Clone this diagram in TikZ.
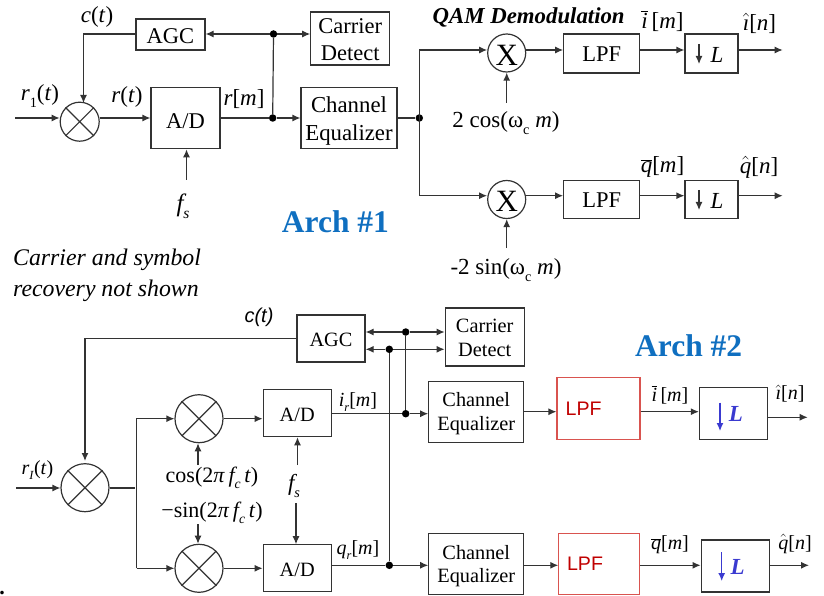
\documentclass[tikz,border=0pt]{standalone}
\usepackage{fontspec}
\setmainfont{Liberation Serif}
\setsansfont{Liberation Sans}
\usetikzlibrary{arrows.meta}
\definecolor{wire}{HTML}{333333}
\definecolor{archblue}{HTML}{0F6FC0}
\definecolor{lpfred}{HTML}{C00000}
\definecolor{lpfedge}{HTML}{D9534F}
\definecolor{lblue}{HTML}{3A3AD0}
\newcommand{\fsz}[1]{\fontsize{#1}{#1}\selectfont}
\newcommand{\lowtxt}[1]{\raisebox{-0.28em}{\fontsize{0.62em}{0.62em}\selectfont #1}}
\newcommand{\ii}{\textit}
\newcommand{\pad}[1]{\rule{0pt}{#1em}}
\begin{document}
\begin{tikzpicture}[x=1pt,y=-1pt,
  wirel/.style={draw=wire,line width=1.2pt},
  arr/.style={wirel,-{Latex[length=8pt,width=7pt]}},
  barr/.style={draw=lblue,line width=1.2pt,-{Latex[length=8pt,width=7pt]}},
  blockbox/.style={draw=wire,line width=1.2pt,inner sep=0pt,align=center,text=black},
  topbox/.style={blockbox,font=\fsz{22.5}},
  botbox/.style={blockbox,font=\fsz{20.3}},
  redbox/.style={draw=lpfedge,line width=1.1pt,inner sep=0pt},
  mixc/.style={circle,draw=wire,line width=1.2pt,inner sep=0pt},
  dotj/.style={circle,fill=black,inner sep=0pt,minimum size=7.5pt},
  lab/.style={inner sep=0pt,text=black,font=\fsz{21}},
  lab2/.style={inner sep=0pt,text=black,font=\fsz{20}},
  arch/.style={inner sep=0pt,text=archblue,font=\fsz{31.5}\bfseries}
]
\useasboundingbox (0,0) rectangle (824,596);
% ---------- Arch 1 ----------
\node[mixc,minimum size=39pt] (m1) at (79.7,121.7) {};
\draw[wirel] (m1.45)--(m1.225) (m1.135)--(m1.315);
\node[topbox,minimum width=69pt,minimum height=31pt] (agc1) at (170.5,34.6) {\pad{.76}AGC};
\node[topbox,minimum width=79pt,minimum height=53pt] (cd1) at (350.3,38.5) {\pad{.77}Carrier\\[4pt]Detect};
\node[topbox,minimum width=69pt,minimum height=61pt] (ad1) at (185.5,118.3) {\pad{.9}A/D};
\node[topbox,minimum width=96pt,minimum height=61pt,font=\fsz{22.8}] (ce1) at (349,118.3) {\pad{.9}Channel\\[5pt]Equalizer};
\node[dotj] (j1a) at (273.5,34) {};
\node[dotj] (j1b) at (272.7,118) {};
\node[dotj] (j1c) at (419.3,118) {};
\coordinate (in1) at (15,118);
\coordinate (ct1) at (83.5,34);
\coordinate (fs1) at (186.5,180);
\coordinate (up1) at (419.3,50);
\coordinate (dn1) at (419.3,195.7);
\draw[arr] (in1) -- (in1 -| m1.west);
\draw[wirel] (j1a) -- (j1b);
\draw[arr] (j1a) -- (j1a -| agc1.east);
\draw[arr] (j1a) -- (j1a -| cd1.west);
\draw[arr] (agc1.west |- ct1) -- (ct1) -- (83.5,103);
\draw[arr] (in1 -| m1.east) -- (in1 -| ad1.west);
\draw[wirel] (in1 -| ad1.east) -- (j1b);
\draw[arr] (j1b) -- (in1 -| ce1.west);
\draw[wirel] (in1 -| ce1.east) -- (j1c);
\draw[arr] (fs1) -- (fs1 |- ad1.south);
\draw[wirel] (up1) -- (dn1);
\node[mixc,minimum size=38pt,font=\fsz{31}] (x1) at (506.7,53) {\pad{.79}X};
\node[mixc,minimum size=38pt,font=\fsz{31}] (x2) at (506.7,199.5) {\pad{.79}X};
\node[topbox,minimum width=76pt,minimum height=39pt] (lp1) at (601.7,53.5) {\pad{.75}LPF};
\node[topbox,minimum width=76pt,minimum height=38pt] (lp2) at (601.7,199.5) {\pad{.75}LPF};
\node[topbox,minimum width=53pt,minimum height=39pt] (dl1) at (711.5,53.5) {};
\node[topbox,minimum width=53pt,minimum height=38pt] (dl2) at (711.5,199.5) {};
\node[lab,font=\fsz{23}\itshape] (l1) at (717,55) {L};
\node[lab,font=\fsz{23}\itshape] (l2) at (717,201) {L};
\coordinate (a1t) at (699,44); \coordinate (a1b) at (699,64);
\coordinate (a2t) at (699,190); \coordinate (a2b) at (699,210);
\draw[arr] (a1t) -- (a1b);
\draw[arr] (a2t) -- (a2b);
\coordinate (o1) at (782.7,50);
\coordinate (o2) at (782.7,195.7);
\coordinate (cs1) at (506.7,103);
\coordinate (cs2) at (506.7,248);
\draw[arr] (up1) -- (up1 -| x1.west);
\draw[arr] (dn1) -- (dn1 -| x2.west);
\draw[arr] (up1 -| x1.east) -- (up1 -| lp1.west);
\draw[arr] (dn1 -| x2.east) -- (dn1 -| lp2.west);
\draw[arr] (up1 -| lp1.east) -- (up1 -| dl1.west);
\draw[arr] (dn1 -| lp2.east) -- (dn1 -| dl2.west);
\draw[arr] (up1 -| dl1.east) -- (o1);
\draw[arr] (dn1 -| dl2.east) -- (o2);
\draw[arr] (cs1) -- (x1.south);
\draw[arr] (cs2) -- (x2.south);
% labels arch 1
\node[lab,font=\fsz{23}] (tc1) at (97,17) {\ii{c}(\ii{t})};
\node[lab,font=\fsz{23}] (tr1) at (40,96) {\ii{r}\lowtxt{1}(\ii{t})};
\node[lab,font=\fsz{23}] (trt) at (127,97) {\ii{r}(\ii{t})};
\node[lab,font=\fsz{23}] (trm) at (244,99) {\ii{r}[\ii{m}]};
\node[lab,font=\fsz{25}] (tfs) at (183,206) {\ii{f\lowtxt{s}}};
\node[arch] (a1) at (335.5,222) {Arch \#1};
\node[lab,font=\fsz{23.8}\itshape,align=left,anchor=west] (note) at (13,275.5) {Carrier and symbol\\[7pt]recovery not shown};
\node[lab,font=\fsz{22.8}\bfseries\itshape] (qam) at (528.7,17) {QAM Demodulation};
\node[lab,font=\fsz{23}] (ti1) at (662.5,21) {$\overline{\mbox{\ii{i}}}$\,[\ii{m}]};
\node[lab,font=\fsz{23}] (tin1) at (759.5,23) {$\hat{\mbox{\ii{\i}}}$[\ii{n}]};
\node[lab,font=\fsz{23}] (tq1) at (662.5,167) {$\overline{\mbox{\ii{q}}}$[\ii{m}]};
\node[lab,font=\fsz{23}] (tqn1) at (759,167) {$\hat{\mbox{\ii{q}}}$[\ii{n}]};
\node[lab,font=\fsz{23}] (tc2) at (506,123) {2 cos(ω\lowtxt{c} \ii{m})};
\node[lab,font=\fsz{23}] (ts2) at (506,270) {-2 sin(ω\lowtxt{c} \ii{m})};
% ---------- Arch 2 ----------
\node[mixc,minimum size=48pt] (m2) at (85,487.7) {};
\draw[wirel] (m2.45)--(m2.225) (m2.135)--(m2.315);
\node[mixc,minimum size=48pt] (m3) at (199,418.7) {};
\draw[wirel] (m3.45)--(m3.225) (m3.135)--(m3.315);
\node[mixc,minimum size=48pt] (m4) at (199,568.3) {};
\draw[wirel] (m4.45)--(m4.225) (m4.135)--(m4.315);
\node[botbox,minimum width=68pt,minimum height=47pt] (agc2) at (331,338.5) {\pad{.75}AGC};
\node[botbox,minimum width=79pt,minimum height=58pt] (cd2) at (484.7,337) {\pad{.78}Carrier\\[4pt]Detect};
\node[botbox,minimum width=68pt,minimum height=47pt] (ad2) at (297.2,413.2) {\pad{.78}A/D};
\node[botbox,minimum width=68pt,minimum height=47pt] (ad3) at (297.2,568.3) {\pad{.82}A/D};
\node[botbox,minimum width=95pt,minimum height=61pt] (ce2) at (476.3,411.7) {\pad{.9}Channel\\[3.5pt]Equalizer};
\node[botbox,minimum width=95pt,minimum height=61pt] (ce3) at (476.3,564) {\pad{.9}Channel\\[3.5pt]Equalizer};
\node[redbox,minimum width=83pt,minimum height=62pt] (lp3) at (598.5,408.8) {};
\node[redbox,minimum width=81pt,minimum height=61pt] (lp4) at (599.3,564.2) {};
\node[inner sep=0pt,text=lpfred,font=\fsz{19.6}\sffamily] (lt3) at (583.7,409) {LPF};
\node[inner sep=0pt,text=lpfred,font=\fsz{19.6}\sffamily] (lt4) at (585,563.7) {LPF};
\node[botbox,minimum width=68pt,minimum height=52pt] (dl3) at (733.5,413.5) {};
\node[botbox,minimum width=68pt,minimum height=52pt] (dl4) at (735.2,566) {};
\node[inner sep=0pt,text=lblue,font=\fsz{23}\bfseries\itshape] (l3) at (736,414) {L};
\node[inner sep=0pt,text=lblue,font=\fsz{23}\bfseries\itshape] (l4) at (737.7,566.7) {L};
\coordinate (b3t) at (720,402.7); \coordinate (b3b) at (720,431);
\coordinate (b4t) at (721.7,552); \coordinate (b4b) at (721.7,581);
\draw[barr] (b3t) -- (b3b);
\draw[barr] (b4t) -- (b4b);
\node[dotj] (j2a) at (405.7,332) {};
\node[dotj] (j2b) at (405.7,413.7) {};
\node[dotj] (j2c) at (389.3,349.3) {};
\node[dotj] (j2d) at (389.3,565.3) {};
\coordinate (in2) at (16,488);
\coordinate (ct2) at (85,338.7);
\coordinate (sp) at (134.5,488);
\coordinate (sp3) at (136.5,418.7);
\coordinate (sp4) at (136.5,568.3);
\coordinate (o3) at (807.7,417.3);
\coordinate (o4) at (809,565.3);
\coordinate (w3) at (400,411.7);
\draw[arr] (in2) -- (in2 -| m2.west);
\draw[wirel] (in2 -| m2.east) -- (sp);
\draw[arr] (agc2.west |- ct2) -- (ct2) -- (85,461);
\draw[arr] (sp4) -- (sp3) -- (m3.west);
\draw[arr] (sp4) -- (m4.west);
\draw[arr] (m3.east) -- (m3.east -| ad2.west);
\draw[arr] (m4.east) -- (m4.east -| ad3.west);
\draw[wirel] (j2a) -- (j2b);
\draw[wirel] (j2c) -- (j2d);
\draw[wirel] (j2b -| ad2.east) -- (j2b);
\draw[wirel] (j2d -| ad3.east) -- (j2d);
\draw[arr] (j2b) -- (j2b -| ce2.west);
\draw[arr] (j2d) -- (j2d -| ce3.west);
\draw[arr] (j2a) -- (j2a -| agc2.east);
\draw[arr] (j2a) -- (j2a -| cd2.west);
\draw[arr] (j2c) -- (j2c -| agc2.east);
\draw[arr] (j2c) -- (j2c -| cd2.west);
\draw[arr] (ce2.east) -- (ce2.east -| lp3.west);
\draw[arr] (j2d -| ce3.east) -- (j2d -| lp4.west);
\draw[arr] (w3 -| lp3.east) -- (w3 -| dl3.west);
\draw[arr] (j2d -| lp4.east) -- (j2d -| dl4.west);
\draw[arr] (o3 -| dl3.east) -- (o3);
\draw[arr] (o4 -| dl4.east) -- (o4);
\coordinate (cu) at (198,465);
\coordinate (su) at (198,524);
\coordinate (fu) at (297.5,465);
\coordinate (fd) at (296,503);
\draw[arr] (cu) -- (cu |- m3.south);
\draw[arr] (su) -- (su |- m4.north);
\draw[arr] (fu) -- (fu |- ad2.south);
\draw[arr] (fd) -- (fd |- ad3.north);
% labels arch 2
\node[inner sep=0pt,font=\fsz{20}\sffamily\itshape] (tc3) at (259,317) {c(t)};
\node[lab2] (tr2) at (37.5,470) {\ii{r}\lowtxt{\ii{I}}(\ii{t})};
\node[lab2] (tir) at (358,402) {\ii{i\lowtxt{r}}[\ii{m}]};
\node[lab2] (tqr) at (358,550) {\ii{q\lowtxt{r}}[\ii{m}]};
\node[lab2,font=\fsz{22}] (tcs) at (212,477.5) {cos(2\ii{π}\,\ii{f\lowtxt{c}\,t})};
\node[lab2,font=\fsz{22}] (tsn) at (212,513) {−sin(2\ii{π}\,\ii{f\lowtxt{c}\,t})};
\node[lab2,font=\fsz{23}] (tfs2) at (294,486) {\ii{f\lowtxt{s}}};
\node[arch] (a2) at (688.7,345.5) {Arch \#2};
\node[lab2] (ti2) at (670,395) {$\overline{\mbox{\ii{i}}}$\,[\ii{m}]};
\node[lab2] (tin2) at (790,394) {$\hat{\mbox{\ii{\i}}}$[\ii{n}]};
\node[lab2] (tq2) at (670,545) {$\overline{\mbox{\ii{q}}}$[\ii{m}]};
\node[lab2] (tqn2) at (795,544) {$\hat{\mbox{\ii{q}}}$[\ii{n}]};
\node[lab,font=\fsz{22}\bfseries] (dot) at (2,593) {.};
\end{tikzpicture}
\end{document}
